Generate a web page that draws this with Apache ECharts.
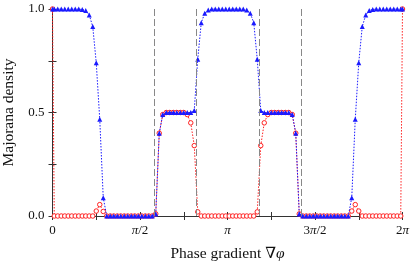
<!DOCTYPE html>
<html><head><meta charset="utf-8">
<script src="https://cdn.jsdelivr.net/npm/echarts@6/dist/echarts.min.js"></script>
<style>html,body{margin:0;padding:0;background:#fff}#c{width:415px;height:265px}</style>
</head><body><div id="c"></div>
<script>
// sampling grid: phase 0, 100 mid-point samples, phase 2π
const N = 100;
const phase = [0];
for (let k = 0; k < N; k++) phase.push(2 * Math.PI * (k + 0.5) / N);
phase.push(2 * Math.PI);

const blueDensity = [
  1.0,
  1.0,1.0,1.0,1.0,1.0,1.0,1.0,1.0,
  0.998,0.993,0.971,0.915,0.74,0.467,0.088,
  0,0,0,0,0,0,0,0,0,0,0,0,0,0,
  0.01,0.40,0.49,
  0.50,0.50,0.50,0.50,0.50,0.50,0.50,0.50,
  0.51,0.757,0.934,0.979,0.995,
  1,1,1,1,1,1,1,1,1,1,
  0.995,0.979,0.934,0.757,0.51,
  0.50,0.50,0.50,0.50,0.50,0.50,0.50,0.50,
  0.49,0.40,0.01,
  0,0,0,0,0,0,0,0,0,0,0,0,0,0,
  0.088,0.467,0.74,0.915,0.971,0.993,0.998,
  1,1,1,1,1,1,1,1,
  1.0
];
const redDensity = [
  1.0,
  0,0,0,0,0,0,0,0,0,0,0,0,
  0.024,0.055,0.022,
  0,0,0,0,0,0,0,0,0,0,0,0,0,0,
  0.01,0.40,0.49,
  0.50,0.50,0.50,0.50,0.50,0.50,
  0.49,0.45,0.34,0.02,
  0,0,0,0,0,0,0,0,0,0,0,0,0,0,0,0,
  0.02,0.34,0.45,0.49,
  0.50,0.50,0.50,0.50,0.50,0.50,
  0.49,0.40,0.01,
  0,0,0,0,0,0,0,0,0,0,0,0,0,0,
  0.024,0.055,0.024,
  0,0,0,0,0,0,0,0,0,0,0,0,
  1.0
];
const gapClosings = [1.828, 2.575, 3.708, 4.455];
const xTickLabels = ['0', 'π/2', 'π', '3π/2', '2π'];
const yTickLabels = ['0.0', '0.5', '1.0'];

const FONT = '"Liberation Serif", "DejaVu Serif", serif';
function toRich(s) {
  return s.split(/(π)/).filter(p => p.length).map(p => p === 'π' ? '{i|π}' : '{n|' + p + '}').join('');
}
const pairs = (ys) => ys.map((y, i) => [phase[i], y]);

const axisLine = { show: true, lineStyle: { color: '#333', width: 1 } };
const chart = echarts.init(document.getElementById('c'), null, { renderer: 'canvas' });
chart.setOption({
  animation: false,
  grid: { left: 52.5, right: 12.5, top: 9, bottom: 49, containLabel: false, outerBoundsMode: 'none' },
  xAxis: [{
    type: 'value', min: 0, max: 2 * Math.PI, interval: Math.PI / 4,
    axisLine, splitLine: { show: false },
    axisTick: { show: true, inside: true, length: 4, lineStyle: { color: '#333' } },
    axisLabel: {
      margin: 8, color: '#111', fontFamily: FONT, fontSize: 13,
      formatter: v => {
        const q = v / (Math.PI / 2), i = Math.round(q);
        return Math.abs(q - i) < 1e-6 ? toRich(xTickLabels[i]) : '';
      },
      rich: {
        n: { fontFamily: FONT, fontSize: 13, color: '#111' },
        i: { fontFamily: FONT, fontSize: 13, fontStyle: 'italic', color: '#111' }
      }
    },
    name: '{n|Phase gradient ∇}{i|φ}', nameLocation: 'middle', nameGap: 30,
    nameTextStyle: {
      rich: {
        n: { fontFamily: FONT, fontSize: 15.5, color: '#111' },
        i: { fontFamily: FONT, fontSize: 15.5, fontStyle: 'italic', color: '#111' }
      }
    }
  }, {
    type: 'value', position: 'top', min: 0, max: 2 * Math.PI, interval: Math.PI / 4,
    axisLine, splitLine: { show: false }, axisLabel: { show: false },
    axisTick: { show: true, inside: true, length: 4, lineStyle: { color: '#333' } }
  }],
  yAxis: [{
    type: 'value', min: 0, max: 1, interval: 0.25,
    axisLine, splitLine: { show: false },
    axisTick: { show: true, inside: true, length: 4, lineStyle: { color: '#333' } },
    axisLabel: {
      margin: 8, color: '#111', fontFamily: FONT, fontSize: 13,
      formatter: v => {
        const q = v / 0.5, i = Math.round(q);
        return Math.abs(q - i) < 1e-6 ? yTickLabels[i] : '';
      }
    },
    name: 'Majorana density', nameLocation: 'middle', nameGap: 31,
    nameTextStyle: { fontFamily: FONT, fontSize: 15.5, color: '#111' }
  }, {
    type: 'value', position: 'right', min: 0, max: 1, interval: 0.25,
    axisLine, splitLine: { show: false }, axisLabel: { show: false },
    axisTick: { show: true, inside: true, length: 4, lineStyle: { color: '#333' } }
  }],
  series: [{
    name: 'red', type: 'line', data: pairs(redDensity), z: 3,
    symbol: 'circle', symbolSize: 4.5,
    itemStyle: { color: '#fff', borderColor: '#ff2020', borderWidth: 1 },
    lineStyle: { color: '#ff2020', width: 1, type: [1.5, 1.5] },
    markLine: {
      silent: true, symbol: 'none', label: { show: false },
      lineStyle: { color: '#888', width: 1, type: [7, 3] },
      data: gapClosings.map(v => ({ xAxis: v }))
    }
  }, {
    name: 'blue', type: 'line', data: pairs(blueDensity), z: 4,
    symbol: 'triangle', symbolSize: 5,
    itemStyle: { color: '#1a1aff' },
    lineStyle: { color: '#1a1aff', width: 1, type: [1.5, 1.5] }
  }]
});
</script>
</body></html>
